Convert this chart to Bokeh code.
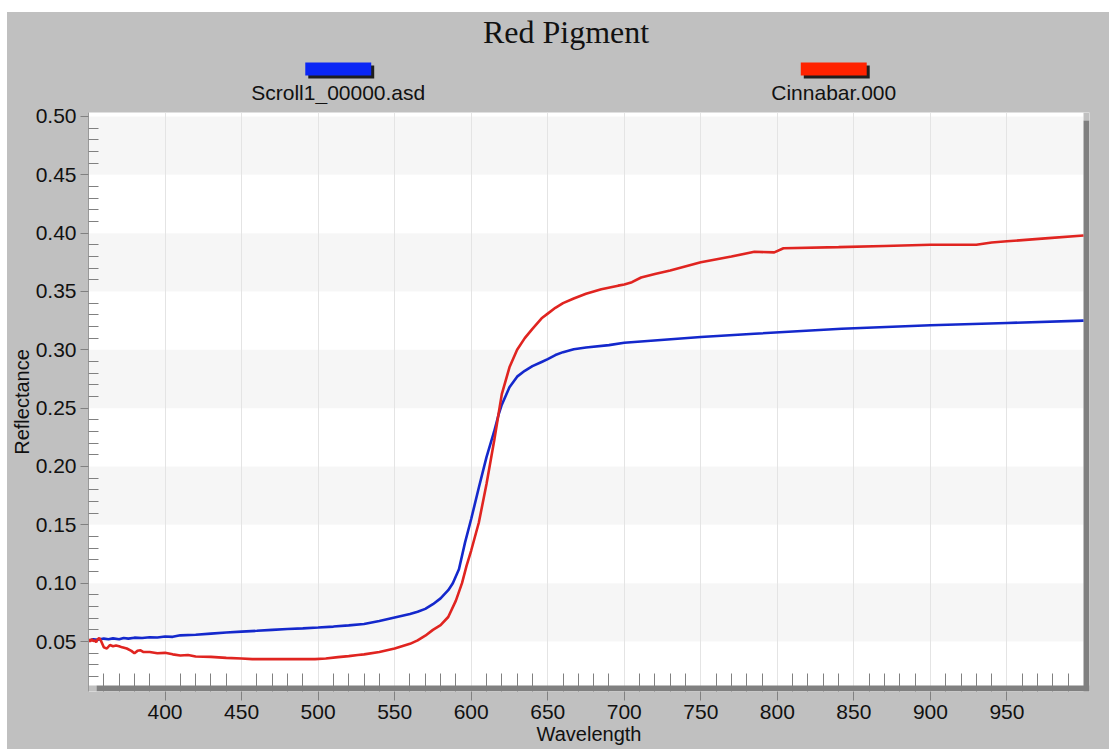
from bokeh.plotting import figure
from bokeh.models import Range1d, FixedTicker, NumeralTickFormatter, Spacer
from bokeh.layouts import column, row
from bokeh.embed import file_html
from bokeh.resources import INLINE
from bokeh.core.properties import value

# ---------------- data ----------------
blue_wl = [350, 353, 356, 360, 363, 366, 370, 373, 376, 380, 385, 390, 395, 400, 405, 410,
           420, 430, 440, 450, 460, 470, 480, 490, 500, 510, 520, 530, 540, 550, 560, 565,
           570, 575, 580, 585, 588, 592, 596, 600, 605, 610, 615, 618, 620, 625, 630, 635,
           640, 646, 650, 655, 660, 667, 675, 690, 700, 750, 785, 842, 900, 950, 1000]
blue_refl = [0.0505, 0.052, 0.0515, 0.0525, 0.052, 0.0527, 0.052, 0.053, 0.0525, 0.0533,
             0.053, 0.0537, 0.0535, 0.0543, 0.054, 0.0553, 0.0558, 0.0568, 0.0577, 0.0585,
             0.0592, 0.060, 0.0607, 0.0613, 0.062, 0.0628, 0.0638, 0.065, 0.0675, 0.0705,
             0.0735, 0.0755, 0.078, 0.082, 0.087, 0.094, 0.100, 0.112, 0.135, 0.155, 0.182,
             0.208, 0.230, 0.245, 0.253, 0.268, 0.277, 0.282, 0.286, 0.2896, 0.292, 0.2955,
             0.298, 0.3005, 0.302, 0.304, 0.306, 0.311, 0.3138, 0.318, 0.321, 0.323, 0.325]

red_wl = [350, 351, 352, 353, 354, 355, 356, 357, 358, 360, 362, 364, 366, 368, 370, 372,
          375, 378, 380, 382, 384, 386, 390, 395, 400, 405, 410, 415, 420, 430, 440, 450,
          457, 470, 480, 490, 498, 505, 513, 520, 526, 530, 540, 550, 560, 565, 570, 575,
          580, 585, 590, 594, 597, 600, 605, 610, 615, 618, 620, 625, 630, 635, 640, 646,
          650, 655, 660, 667, 675, 685, 696, 700, 705, 711, 720, 730, 750, 770, 785, 798,
          804, 840, 870, 900, 930, 940, 950, 975, 1000]
red_refl = [0.052, 0.050, 0.052, 0.0505, 0.051, 0.0495, 0.052, 0.053, 0.051, 0.045, 0.044,
            0.047, 0.046, 0.0465, 0.046, 0.045, 0.044, 0.042, 0.040, 0.042, 0.0425, 0.041,
            0.041, 0.040, 0.0403, 0.039, 0.038, 0.0385, 0.0372, 0.0368, 0.036, 0.0355,
            0.0349, 0.0349, 0.0349, 0.0349, 0.0349, 0.0355, 0.0366, 0.0375, 0.0385, 0.039,
            0.041, 0.044, 0.048, 0.051, 0.055, 0.060, 0.064, 0.071, 0.085, 0.100, 0.115,
            0.128, 0.152, 0.185, 0.222, 0.246, 0.262, 0.285, 0.300, 0.310, 0.318, 0.327,
            0.331, 0.336, 0.340, 0.344, 0.348, 0.352, 0.355, 0.356, 0.358, 0.362, 0.365,
            0.368, 0.375, 0.380, 0.384, 0.3835, 0.387, 0.388, 0.389, 0.390, 0.390, 0.392,
            0.393, 0.3955, 0.398]

series_names = ["Scroll1_00000.asd", "Cinnabar.000"]
line_colors = ["#1428cc", "#e02420"]
swatch_colors = ["#0a26f5", "#ff2200"]

x_major = list(range(400, 1000, 50))
x_minor = [w for w in range(360, 1000, 10) if w % 50 != 0]
y_major = [round(0.05 * k, 2) for k in range(1, 11)]
y_minor = [round(0.01 * k, 2) for k in range(2, 50) if k % 5 != 0]

title_text = "Red Pigment"
x_label = "Wavelength"
y_label = "Reflectance"

# ---------------- style / geometry ----------------
GRAY = "#c0c0c0"
SHADOW = "#808080"
BAND = "#e6e6e6"
X_MIN, X_MAX = 350, 1000
Y_MIN, Y_MAX = 0.0123, 0.5034
VIS_W, VIS_H = 996, 573          # visible white plot area in px
SH = 6                            # drop shadow thickness px
SH_OFF = 8                        # drop shadow offset px
FRAME_W, FRAME_H = VIS_W + SH, VIS_H + SH
px_x = (X_MAX - X_MIN) / VIS_W
px_y = (Y_MAX - Y_MIN) / VIS_H
x_end = X_MAX + SH * px_x
y_start = Y_MIN - SH * px_y

FONT = "Liberation Sans"
PAD_L, PAD_T = 7, 12
FIG_W = 1109 - PAD_L
HEAD_H = 92
FRAME_TOP = 112
MAIN_H = 749 - PAD_T - HEAD_H
B_LEFT, B_RIGHT = 80, FIG_W - 80 - FRAME_W
B_TOP = FRAME_TOP - PAD_T - HEAD_H
B_BOTTOM = MAIN_H - B_TOP - FRAME_H

# page coordinates of the plot frame (header uses them as its data space)
FR_L = PAD_L + B_LEFT
FR_R = FR_L + FRAME_W

# ---------------- header (title + legend) ----------------
h = figure(width=FIG_W, height=HEAD_H, x_range=Range1d(FR_L, FR_R),
           y_range=Range1d(PAD_T + HEAD_H, PAD_T),
           x_axis_location=None, y_axis_location=None, toolbar_location=None,
           output_backend="svg", min_border_left=B_LEFT, min_border_right=B_RIGHT,
           min_border_top=0, min_border_bottom=0, background_fill_color=GRAY,
           border_fill_color=GRAY, outline_line_color=None)
h.styles = {"background-color": GRAY}
h.grid.visible = False
h.text(x=[565], y=[31], text=[title_text], text_font=value("Liberation Serif"),
       text_font_size="32px", text_align="center", text_baseline="middle",
       text_color="#111111")
legend_cx = [337, 833]
for cx, name, col in zip(legend_cx, series_names, swatch_colors):
    h.quad(left=[cx - 33 + 3], right=[cx + 33 + 3], bottom=[78], top=[65],
           fill_color="#1e1e1e", line_color=None)
    h.quad(left=[cx - 33], right=[cx + 33], bottom=[75], top=[62],
           fill_color=col, line_color=None)
    h.text(x=[cx], y=[92], text=[name], text_font=value(FONT), text_font_size="21px",
           text_align="center", text_baseline="middle", text_color="#111111")

# ---------------- main plot ----------------
p = figure(width=FIG_W, height=MAIN_H,
           x_range=Range1d(X_MIN, x_end), y_range=Range1d(y_start, Y_MAX),
           output_backend="svg", toolbar_location=None,
           min_border_left=B_LEFT, min_border_right=B_RIGHT, min_border_top=B_TOP,
           min_border_bottom=B_BOTTOM,
           border_fill_color=GRAY, background_fill_color="white", outline_line_color=None)
p.styles = {"background-color": GRAY}

# alternating bands
band_lo = [y_major[i] for i in range(0, len(y_major) - 1, 2)]
band_hi = [y_major[i + 1] for i in range(0, len(y_major) - 1, 2)]
p.quad(left=X_MIN, right=X_MAX, bottom=band_lo, top=band_hi,
       fill_color=BAND, fill_alpha=0.35, line_color=None)

# drop shadow region outside the white area
p.quad(left=[X_MIN, X_MAX], right=[X_MIN + SH_OFF * px_x, x_end],
       bottom=[y_start, Y_MAX - SH_OFF * px_y], top=[Y_MIN, Y_MAX],
       fill_color=GRAY, line_color=None)
p.quad(left=[X_MIN + SH_OFF * px_x, X_MAX], right=[x_end, x_end],
       bottom=[y_start, y_start], top=[Y_MIN, Y_MAX - SH_OFF * px_y],
       fill_color=SHADOW, line_color=None)

p.line(blue_wl, blue_refl, line_color=line_colors[0], line_width=2.6)
p.line(red_wl, red_refl, line_color=line_colors[1], line_width=2.6)

# axes
p.xaxis.ticker = FixedTicker(ticks=x_major, minor_ticks=x_minor)
p.yaxis.ticker = FixedTicker(ticks=y_major, minor_ticks=y_minor)
p.yaxis.formatter = NumeralTickFormatter(format="0.00")

for ax in (p.xaxis, p.yaxis):
    ax.major_label_text_font = FONT
    ax.major_label_text_font_size = "21px"
    ax.major_label_text_color = "#111111"
    ax.axis_label_text_font = FONT
    ax.axis_label_text_font_size = "20px"
    ax.axis_label_text_font_style = "normal"
    ax.axis_label_text_color = "#111111"
    ax.major_tick_line_color = "#808080"
    ax.minor_tick_line_color = "#808080"
    ax.major_tick_in = 0
    ax.minor_tick_out = 0

p.xaxis.axis_label = x_label
p.xaxis.axis_line_color = None
p.xaxis.major_tick_out = 9
p.xaxis.minor_tick_in = SH + 12
p.xaxis.major_label_standoff = 4
p.xaxis.axis_label_standoff = 1

p.yaxis.axis_label = y_label
p.yaxis.axis_line_color = "#999999"
p.yaxis.major_tick_out = 8
p.yaxis.minor_tick_in = 10
p.yaxis.major_label_standoff = 4
p.yaxis.axis_label_standoff = 0

p.xgrid.grid_line_color = "#e4e4e4"
p.ygrid.grid_line_color = None

layout = column(Spacer(width=1109, height=PAD_T),
                row(Spacer(width=PAD_L, height=HEAD_H + MAIN_H), column(h, p, spacing=0), spacing=0),
                spacing=0)
open("out.html", "w").write(file_html(layout, INLINE, title="Red Pigment"))
